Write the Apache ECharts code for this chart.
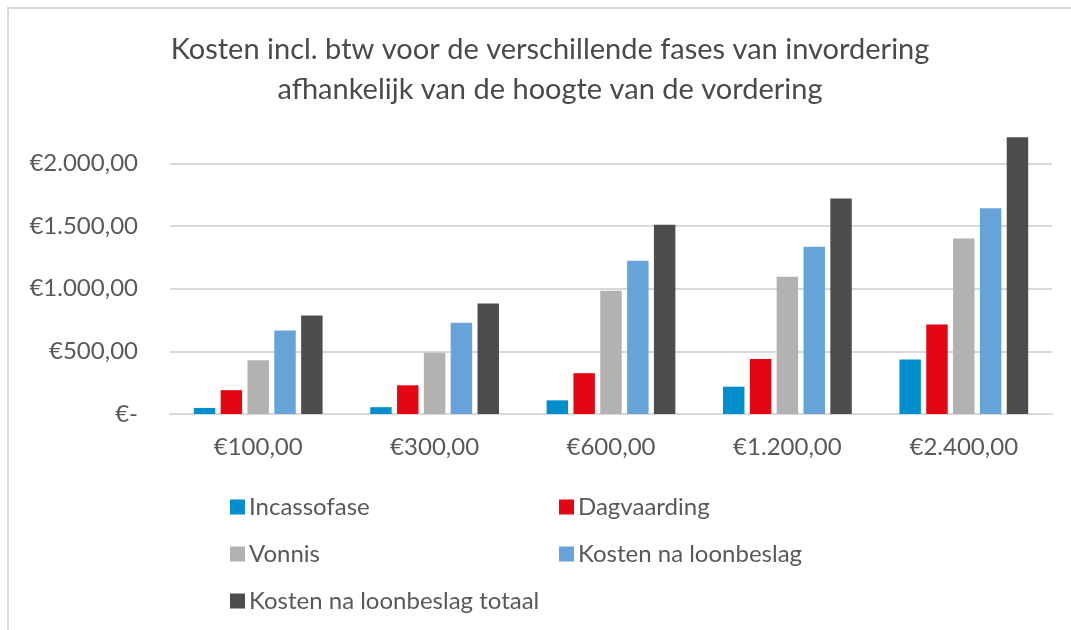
<!DOCTYPE html>
<html lang="nl">
<head>
    <meta charset="UTF-8">
    <title>Kosten incl. btw</title>
    <script src="https://cdn.jsdelivr.net/npm/echarts@6/dist/echarts.min.js"></script>
    <style>
        html, body { margin: 0; padding: 0; background: #fff; }
        #frame {
            position: absolute; left: 7px; top: 7px; width: 1100px; height: 700px;
            border-left: 2px solid #d9d9d9; border-top: 2px solid #d9d9d9;
        }
        #main { position: absolute; left: 0; top: 0; width: 1071px; height: 630px; }
    </style>
</head>
<body>
<div id="frame"></div>
<div id="main"></div>
<script>
    // data
    var categories = ['€100,00', '€300,00', '€600,00', '€1.200,00', '€2.400,00'];
    var seriesNames = ['Incassofase', 'Dagvaarding', 'Vonnis', 'Kosten na loonbeslag', 'Kosten na loonbeslag totaal'];
    var incassofase = [48.40, 54.45, 108.90, 217.80, 435.60];
    var dagvaarding = [190, 229, 326, 438, 714];
    var vonnis = [428, 489, 984, 1095, 1400];
    var kostenLoonbeslag = [667, 728, 1222, 1334, 1642];
    var kostenTotaal = [785, 882, 1510, 1720, 2208];
    var yTicks = [0, 500, 1000, 1500, 2000];

    var colors = ['#008fcc', '#e30613', '#b3b2b1', '#66a3d9', '#4d4d4d'];
    var allData = [incassofase, dagvaarding, vonnis, kostenLoonbeslag, kostenTotaal];
    var font = 'Lato, "Open Sans", sans-serif';

    function euro(v) {
        if (v === 0) return '€-';
        var parts = v.toFixed(2).split('.');
        return '€' + parts[0].replace(/\B(?=(\d{3})+(?!\d))/g, '.') + ',' + parts[1];
    }

    var chart = echarts.init(document.getElementById('main'));

    // one legend per item so the two columns line up like the original
    var legendPos = [[225, 490], [554, 490], [225, 537], [554, 537], [225, 584]];
    var legends = seriesNames.map(function (name, i) {
        return {
            data: [name],
            left: legendPos[i][0],
            top: legendPos[i][1],
            icon: 'rect',
            itemWidth: 15,
            itemHeight: 15,
            textStyle: { fontFamily: font, fontSize: 24, color: '#595959', padding: [0, 0, 0, -1] }
        };
    });

    var option = {
        animation: false,
        color: colors,
        title: {
            text: 'Kosten incl. btw voor de verschillende fases van invordering\nafhankelijk van de hoogte van de vordering',
            left: 545,
            top: 25,
            textAlign: 'center',
            textStyle: {
                fontFamily: font,
                fontSize: 29,
                fontWeight: 'normal',
                color: '#4a4a4a',
                lineHeight: 40
            }
        },
        legend: legends,
        grid: { left: 170, right: 19, top: 132, bottom: 216 },
        xAxis: {
            type: 'category',
            data: categories,
            axisTick: { show: false },
            axisLine: { lineStyle: { color: '#d9d9d9', width: 2 } },
            axisLabel: { fontFamily: font, fontSize: 24, color: '#595959', margin: 21 }
        },
        yAxis: {
            type: 'value',
            min: 0,
            max: 2250,
            interval: 500,
            axisLine: { show: false },
            axisTick: { show: false },
            axisLabel: {
                fontFamily: font, fontSize: 24, color: '#595959', margin: 32,
                showMaxLabel: false,
                formatter: function (v) { return yTicks.indexOf(v) >= 0 ? euro(v) : ''; }
            },
            splitLine: { showMaxLine: false, lineStyle: { color: '#d9d9d9', width: 2 } }
        },
        series: allData.map(function (d, i) {
            return {
                name: seriesNames[i],
                type: 'bar',
                data: d,
                barGap: '25%',
                barCategoryGap: '27%',
                itemStyle: { color: colors[i] }
            };
        })
    };

    chart.setOption(option);
</script>
</body>
</html>
